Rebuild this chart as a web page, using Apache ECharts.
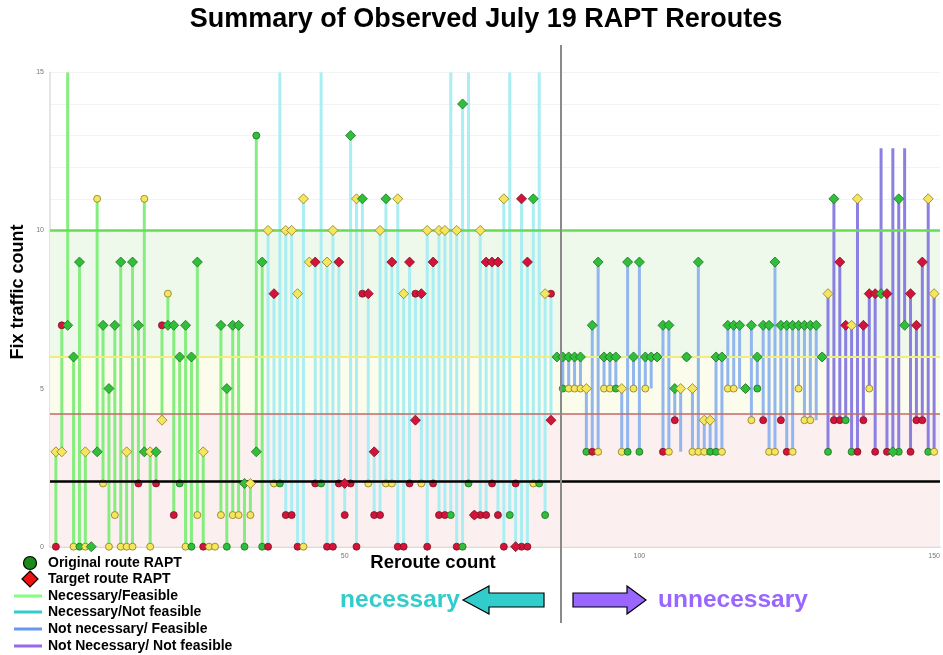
<!DOCTYPE html>
<html>
<head>
<meta charset="utf-8">
<script src="https://cdn.jsdelivr.net/npm/echarts@6/dist/echarts.min.js"></script>
<style>
  html, body { margin: 0; padding: 0; background: #fff; }
  #chart { width: 943px; height: 655px; }
</style>
</head>
<body>
<div id="chart"></div>
<script>
// Reroutes are numbered 1..150 along the x axis.
// Target route RAPT (diamond) per reroute.
const targetRapt = [
  3, 3, 7, 6, 9, 3, 0, 3, 7, 5, 7, 9, 3, 9, 7, 3, 3, 3, 4, 7,
  7, 6, 7, 6, 9, 3, 0, 0, 7, 5, 7, 7, 2, 2, 3, 9, 10, 8, 16, 10,
  10, 8, 11, 9, 9, 16, 9, 10, 9, 2, 13, 11, 11, 8, 3, 10, 11, 9, 11, 8,
  9, 4, 8, 10, 9, 10, 10, 16, 10, 14, 16, 1, 10, 9, 9, 9, 11, 16, 0, 11,
  9, 11, 16, 8, 4, 6, 6, 6, 6, 6, 5, 7, 9, 6, 6, 6, 5, 9, 6, 9,
  6, 6, 6, 7, 7, 5, 5, 6, 5, 9, 4, 4, 6, 6, 7, 7, 7, 5, 7, 6,
  7, 7, 9, 7, 7, 7, 7, 7, 7, 7, 6, 8, 11, 9, 7, 7, 11, 7, 8, 8,
  8, 8, 3, 11, 7, 8, 7, 9, 11, 8
];
// Marker colour code per reroute: G green, Y yellow, R red, - not drawn.
const targetColor =
  'YYGGGYGGGGGGYGGGYGYG' +
  'GGGGGY--GGGGGYGGYR-Y' +
  'YYYYR-YYRRGYGRRYGRYY' +
  'RRRYRYY-YG-RYRRRY-RR' +
  'RG-YRGGGGGYGGGGGYGGG' +
  'GGGGGGYGYGYYGGGGGGGG' +
  'GGGGGGGGGGGYGRRYYRRR' +
  'GRGGGRRRYY';
// Original route RAPT (circle) per reroute.
const originalRapt = [
  0, 7, 16, 0, 0, 0, 0, 11, 2, 0, 1, 0, 0, 0, 2, 11, 0, 2, 7, 8,
  1, 2, 0, 0, 1, 0, 0, 0, 1, 0, 1, 1, 0, 1, 13, 0, 0, 2, 2, 1,
  1, 0, 0, 9, 2, 2, 0, 0, 2, 1, 2, 0, 8, 2, 1, 1, 2, 2, 0, 0,
  2, 8, 2, 0, 2, 1, 1, 1, 0, 0, 2, 1, 1, 1, 2, 1, 0, 1, 2, 0,
  0, 2, 2, 1, 8, 6, 5, 5, 5, 5, 3, 3, 3, 5, 5, 5, 3, 3, 5, 3,
  5, 5, 6, 3, 3, 4, 3, 6, 3, 3, 3, 3, 3, 3, 5, 5, 5, 5, 4, 5,
  4, 3, 3, 4, 3, 3, 5, 4, 4, 4, 6, 3, 4, 4, 4, 3, 3, 4, 5, 3,
  12.6, 3, 12.6, 3, 12.6, 3, 4, 4, 3, 3
];
const originalColor =
  'RR-YGY-YYYYYYYRYYRRY' +
  'RGYGYRYYYGYYGYGGRYGR' +
  'RRY-RGRRRRRRRYRRYYRR' +
  'RRYRRRRGRGGRRRRRRGRR' +
  'RYGGR-GYYYGRYYYGYGYG' +
  'Y-RRYR-GYYYGGYYY-YYG' +
  'RYYRRYYYY-YGRRGGRRYR' +
  '-R-G-RRRGY';
// Reroute classes: last reroute number of each class, in order.
const classNames = ['Necessary/Feasible', 'Necessary/Not feasible', 'Not necessary/ Feasible', 'Not Necessary/ Not feasible'];
const classLastReroute = [36, 85, 131, 150];
const classLineColors = ['#86ee7e', '#a9eef2', '#92b6ee', '#8b80e2'];
const legendLineColors = ['#80ff80', '#33cccc', '#6699ee', '#9966ee'];
// Reference levels on the fix-count axis and shaded bands between them.
const levelLines = [
  { value: 10, color: '#66dd55', width: 2.5 },
  { value: 6, color: '#eeee80', width: 2 },
  { value: 4.2, color: '#c26a6a', width: 1.5 },
  { value: 2.08, color: '#000000', width: 2.5 }
];
const levelBands = [
  { from: 6, to: 10, color: '#eef9ec' },
  { from: 4.2, to: 6, color: '#fcfcec' },
  { from: 0, to: 4.2, color: '#fcefef' }
];
const yTicks = [0, 5, 10, 15];
const xTicks = [50, 100, 150];

const markerColors = {
  G: { fill: '#2fbf3a', border: '#1d6e22' },
  Y: { fill: '#f5e660', border: '#8a7a22' },
  R: { fill: '#d2143a', border: '#7d1022' }
};

function classOf(n) {
  for (let k = 0; k < classLastReroute.length; k++) {
    if (n <= classLastReroute[k]) return k;
  }
  return classLastReroute.length - 1;
}

const spanData = [];
const targetPts = [];
const originalPts = [];
for (let k = 0; k < targetRapt.length; k++) {
  const n = k + 1;
  const a = originalRapt[k], b = targetRapt[k];
  spanData.push({
    value: [n, Math.min(a, b), Math.max(a, b)],
    itemStyle: { color: classLineColors[classOf(n)] }
  });
  const tc = markerColors[targetColor[k]];
  if (tc) targetPts.push({ value: [n, b], itemStyle: { color: tc.fill, borderColor: tc.border } });
  const oc = markerColors[originalColor[k]];
  if (oc) originalPts.push({ value: [n, a], itemStyle: { color: oc.fill, borderColor: oc.border } });
}

const chart = echarts.init(document.getElementById('chart'), null, { renderer: 'canvas' });

const FONT = '"Liberation Sans", Arial, sans-serif';

// Legend and annotations drawn as graphic elements.
const graphics = [
  { type: 'text', x: 486, y: 20, style: { text: 'Summary of Observed July 19 RAPT Reroutes', font: 'bold 27px ' + FONT, fill: '#000', align: 'center', verticalAlign: 'middle' } },
  { type: 'text', x: 18, y: 292, rotation: Math.PI / 2, style: { text: 'Fix traffic count', font: 'bold 18px ' + FONT, fill: '#000', align: 'center', verticalAlign: 'middle' } },
  { type: 'text', x: 433, y: 563, style: { text: 'Reroute count', font: 'bold 18.5px ' + FONT, fill: '#000', align: 'center', verticalAlign: 'middle' } },
  { type: 'line', shape: { x1: 561, y1: 45, x2: 561, y2: 623 }, style: { stroke: '#8a8a8a', lineWidth: 2 }, z: 50 },
  // legend markers
  { type: 'circle', shape: { cx: 30, cy: 563, r: 6.5 }, style: { fill: '#1a8a1a', stroke: '#000', lineWidth: 1.2 } },
  { type: 'polygon', shape: { points: [[30, 571], [38, 579], [30, 587], [22, 579]] }, style: { fill: '#ee1111', stroke: '#000', lineWidth: 1.2 } },
  { type: 'text', x: 48, y: 563, style: { text: 'Original route RAPT', font: 'bold 14px ' + FONT, fill: '#000', verticalAlign: 'middle' } },
  { type: 'text', x: 48, y: 579, style: { text: 'Target route RAPT', font: 'bold 14px ' + FONT, fill: '#000', verticalAlign: 'middle' } },
  // direction arrows
  { type: 'text', x: 400, y: 600, style: { text: 'necessary', font: 'bold 24.5px ' + FONT, fill: '#33cccc', align: 'center', verticalAlign: 'middle' } },
  { type: 'polygon', shape: { points: [[463, 600], [489, 586], [489, 593], [544, 593], [544, 607], [489, 607], [489, 614]] }, style: { fill: '#33cccc', stroke: '#000', lineWidth: 1.2 } },
  { type: 'polygon', shape: { points: [[573, 593], [627, 593], [627, 586], [646, 600], [627, 614], [627, 607], [573, 607]] }, style: { fill: '#9966ff', stroke: '#000', lineWidth: 1.2 } },
  { type: 'text', x: 733, y: 600, style: { text: 'unnecessary', font: 'bold 24.5px ' + FONT, fill: '#9966ff', align: 'center', verticalAlign: 'middle' } }
];
const legendRowsY = [596, 612, 629, 646];
classNames.forEach((name, k) => {
  graphics.push({ type: 'line', shape: { x1: 14, y1: legendRowsY[k], x2: 42, y2: legendRowsY[k] }, style: { stroke: legendLineColors[k], lineWidth: 3 } });
  graphics.push({ type: 'text', x: 48, y: legendRowsY[k], style: { text: name, font: 'bold 14px ' + FONT, fill: '#000', verticalAlign: 'middle' } });
});

const option = {
  animation: false,
  backgroundColor: '#ffffff',
  grid: { left: 50, top: 72.3, width: 897, height: 474.4, containLabel: false },
  xAxis: {
    type: 'value', min: 0, max: 151, interval: 50,
    axisLine: { show: true, lineStyle: { color: '#cfcfcf', width: 1.5 } },
    axisTick: { show: false },
    splitLine: { show: false },
    axisLabel: {
      fontSize: 7, color: '#777', margin: 6, fontFamily: FONT,
      formatter: v => (xTicks.indexOf(v) >= 0 ? String(v) : '')
    }
  },
  yAxis: {
    type: 'value', min: 0, max: 15, interval: 1,
    axisLine: { show: true, lineStyle: { color: '#dddddd', width: 1.5 } },
    axisTick: { show: false },
    splitLine: { show: true, lineStyle: { color: '#f3f3f3', width: 1 } },
    axisLabel: {
      fontSize: 7, color: '#777', margin: 6, fontFamily: FONT,
      formatter: v => (yTicks.indexOf(v) >= 0 ? String(v) : '')
    }
  },
  graphic: graphics,
  series: [
    {
      name: 'bands', type: 'line', data: [[0, 0]], showSymbol: false, silent: true, z: 1,
      lineStyle: { opacity: 0 },
      markArea: {
        silent: true,
        data: levelBands.map(b => [
          { yAxis: b.from, itemStyle: { color: b.color } },
          { yAxis: b.to }
        ])
      }
    },
    {
      name: 'reroutes', type: 'custom', z: 2, clip: true,
      data: spanData,
      renderItem: function (params, api) {
        const x = api.value(0);
        const p1 = api.coord([x, api.value(1)]);
        const p2 = api.coord([x, api.value(2)]);
        const cs = params.coordSys;
        const top = cs.y, bottom = cs.y + cs.height;
        return {
          type: 'line',
          shape: { x1: p1[0], y1: Math.min(bottom, Math.max(top, p1[1])), x2: p2[0], y2: Math.min(bottom, Math.max(top, p2[1])) },
          style: { stroke: api.visual('color'), lineWidth: 3 }
        };
      }
    },
    {
      name: 'levels', type: 'line', data: [[0, 0]], showSymbol: false, silent: true, z: 3,
      lineStyle: { opacity: 0 },
      markLine: {
        silent: true, symbol: 'none', label: { show: false },
        data: levelLines.map(l => ({ yAxis: l.value, lineStyle: { color: l.color, width: l.width, type: 'solid' } }))
      }
    },
    {
      name: 'Original route RAPT', type: 'scatter', symbol: 'circle', symbolSize: 7, z: 4, clip: true,
      itemStyle: { borderWidth: 0.8, opacity: 1 },
      data: originalPts
    },
    {
      name: 'Target route RAPT', type: 'scatter', symbol: 'diamond', symbolSize: 10, z: 5, clip: true,
      itemStyle: { borderWidth: 0.8, opacity: 1 },
      data: targetPts
    }
  ]
};
chart.setOption(option);
</script>
</body>
</html>
